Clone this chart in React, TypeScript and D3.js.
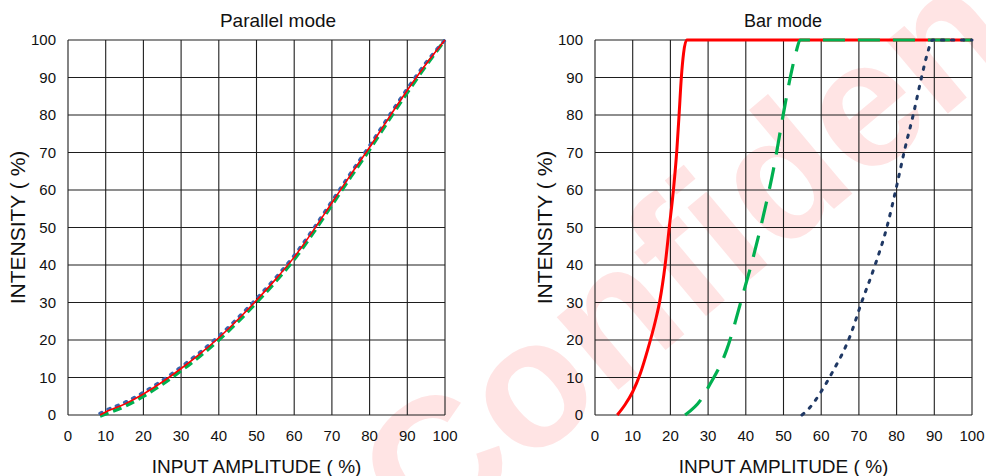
import React from 'react';
import * as d3 from 'd3';

const xTicks = [0, 10, 20, 30, 40, 50, 60, 70, 80, 90, 100];
const yTicks = [0, 10, 20, 30, 40, 50, 60, 70, 80, 90, 100];

// Parallel mode
const parX = [8.5, 10, 15, 20, 25, 30, 35, 40, 45, 50, 55, 60, 65, 70, 75, 80, 85, 90, 95, 100];
const parBlue = [0.4, 1.2, 3.3, 6.0, 9.2, 12.8, 16.7, 21.0, 25.8, 31.0, 36.5, 42.5, 49.5, 57.0, 64.5, 71.8, 79.5, 87.0, 94.0, 100];
const parRed = [0, 0.8, 2.9, 5.6, 8.8, 12.4, 16.3, 20.6, 25.4, 30.6, 36.1, 42.1, 49.1, 56.6, 64.1, 71.4, 79.1, 86.6, 93.6, 100];
const parGreen = [-0.3, 0.3, 2.3, 5.0, 8.2, 11.8, 15.7, 20.0, 24.8, 30.0, 35.5, 41.5, 48.5, 56.0, 63.5, 70.8, 78.5, 86.0, 93.2, 100];

// Bar mode
const barRedX = [5.9, 8, 10, 12, 14, 16, 17.2, 18.6, 19.7, 20.8, 21.7, 22.3, 22.9, 23.5, 24.3, 100];
const barRedY = [0, 2.8, 6.2, 11, 17.5, 25, 30.5, 40, 50, 60, 70.5, 80, 90, 96.5, 100, 100];
const barGreenX = [23.9, 28.3, 30.1, 34.9, 39.3, 42, 44.6, 47.3, 50, 52, 53.4, 54.4, 100];
const barGreenY = [0, 4.4, 7.5, 17.3, 32.4, 42.2, 52.9, 65.3, 80.5, 91, 97, 100, 100];
const barNavyX = [54.9, 57, 59.7, 62.8, 67.6, 70.7, 74.3, 77.4, 80, 82.2, 84.4, 86.6, 88.2, 89.5, 100];
const barNavyY = [0, 2, 5.8, 11.1, 20.9, 30, 40, 50, 61, 71, 80, 90, 96.5, 100, 100];

type Series = { xs: number[]; ys: number[]; color: string; width: number; dash?: string; cap?: string };

function Panel(props: {
  x0: number; x1: number; y0: number; y1: number;
  title: string; titleX: number; titleSize: number;
  yTitleX: number; series: Series[];
}) {
  const { x0, x1, y0, y1, title, titleX, titleSize, yTitleX, series } = props;
  const x = d3.scaleLinear().domain([0, 100]).range([x0, x1]);
  const y = d3.scaleLinear().domain([0, 100]).range([y1, y0]);
  const font = "'Liberation Sans', Arial, sans-serif";
  return (
    <g>
      {xTicks.map((t) => (
        <line key={'vx' + t} x1={x(t)} x2={x(t)} y1={y0} y2={y1} stroke="#1e1e1e" strokeWidth={1.1} />
      ))}
      {yTicks.map((t) => (
        <line key={'hy' + t} x1={x0} x2={x1} y1={y(t)} y2={y(t)} stroke="#1e1e1e" strokeWidth={1.1} />
      ))}
      {xTicks.map((t) => (
        <text key={'xl' + t} x={x(t)} y={y1 + 26} fontSize={15} fontFamily={font} textAnchor="middle" fill="#111">{t}</text>
      ))}
      {yTicks.map((t) => (
        <text key={'yl' + t} x={x0 - 12} y={y(t) + 5} fontSize={15} fontFamily={font} textAnchor="end" fill="#111">{t}</text>
      ))}
      {series.map((s, i) => {
        const pts: [number, number][] = s.xs.map((v, j) => [v, s.ys[j]]);
        const line = d3.line<[number, number]>().x((d) => x(d[0])).y((d) => y(d[1])).curve(d3.curveMonotoneX);
        return (
          <path key={'s' + i} d={line(pts) || ''} fill="none" stroke={s.color} strokeWidth={s.width}
            strokeDasharray={s.dash} strokeLinecap={(s.cap as any) || 'butt'} strokeLinejoin="round" />
        );
      })}
      <text x={titleX} y={y0 - 13} fontSize={titleSize} fontFamily={font} textAnchor="middle" fill="#111">{title}</text>
      <text x={(x0 + x1) / 2} y={y1 + 58} fontSize={19} fontFamily={font} textAnchor="middle" fill="#111">INPUT AMPLITUDE ( %)</text>
      <text transform={`translate(${yTitleX},${(y0 + y1) / 2}) rotate(-90)`} fontSize={21} fontFamily={font} textAnchor="middle" fill="#111">INTENSITY ( %)</text>
    </g>
  );
}

export default function App() {
  return (
    <div style={{ position: 'fixed', left: 0, top: 0 }}>
      <svg width={986} height={476} style={{ display: 'block', background: '#fff' }}>
        <text transform="translate(425,552) rotate(-40)" fontSize={180} fontWeight="bold"
          fontFamily="'Liberation Sans', Arial, sans-serif" fill="#ffe4e4">Confidential</text>
        <Panel x0={68} x1={445} y0={40} y1={415} title="Parallel mode" titleX={278} titleSize={19} yTitleX={25}
          series={[
            { xs: parX, ys: parGreen, color: '#00b050', width: 3.5, dash: '9 5' },
            { xs: parX, ys: parBlue, color: '#3a64ad', width: 3.5, dash: '2 7', cap: 'round' },
            { xs: parX, ys: parRed, color: '#ff0000', width: 1.6 },
          ]} />
        <Panel x0={595} x1={972} y0={40} y1={415} title="Bar mode" titleX={783} titleSize={18} yTitleX={552}
          series={[
            { xs: barRedX, ys: barRedY, color: '#ff0000', width: 3 },
            { xs: barGreenX, ys: barGreenY, color: '#00b050', width: 3.2, dash: '22 13' },
            { xs: barNavyX, ys: barNavyY, color: '#1f3864', width: 3, dash: '2.5 7.5', cap: 'round' },
          ]} />
      </svg>
    </div>
  );
}
